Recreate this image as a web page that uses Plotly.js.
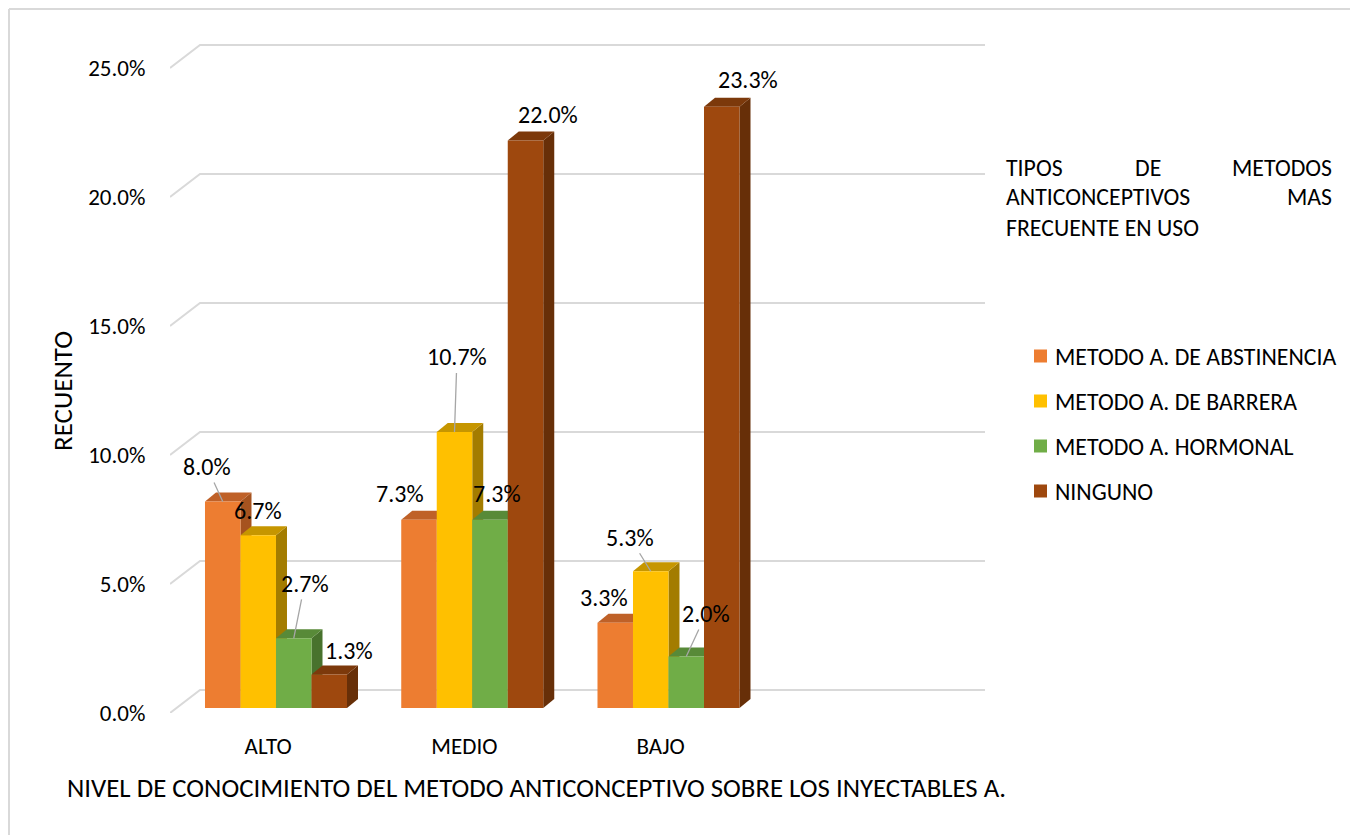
<!DOCTYPE html>
<html>
<head>
<meta charset="utf-8">
<script src="https://cdn.plot.ly/plotly-3.0.1.min.js"></script>
<style>html,body{margin:0;padding:0;background:#fff;}#chart{width:1350px;height:835px;}</style>
</head>
<body>
<div id="chart"></div>
<script>
// ---- data ----
const categories = ['ALTO', 'MEDIO', 'BAJO'];
const seriesNames = ['METODO A. DE ABSTINENCIA', 'METODO A. DE BARRERA', 'METODO A. HORMONAL', 'NINGUNO'];
const abstinencia = [8.0, 7.3, 3.3];
const barrera = [6.7, 10.7, 5.3];
const hormonal = [2.7, 7.3, 2.0];
const ninguno = [1.3, 22.0, 23.3];
const yTickVals = [0, 5, 10, 15, 20, 25];
const yTickText = ['0.0%', '5.0%', '10.0%', '15.0%', '20.0%', '25.0%'];
const legendTitle = 'TIPOS DE METODOS ANTICONCEPTIVOS MAS FRECUENTE EN USO';

// ---- styles ----
const frontColors = ['#ED7D31', '#FFC000', '#70AD47', '#9E480E'];
const topColors = ['#BF6128', '#C69600', '#588A38', '#7C390B'];
const sideColors = ['#A6531F', '#A37C00', '#48722D', '#672F08'];
const FONT = 'Carlito, Calibri, Lato, sans-serif';
const FS_TICK = 23, FS_LABEL = 24, FS_LEG = 23.8, FS_XT = 26.8, FS_YT = 27;
const W = 1350, H = 835;
const M = {l: 170, r: 360, t: 40, b: 122};
const plotW = W - M.l - M.r, plotH = H - M.t - M.b;
const pxPerX = 196.25, pxPerY = 25.8;
const xRange = [-0.5, -0.5 + plotW / pxPerX];
const yRange = [0, plotH / pxPerY];
const backDx = 30 / pxPerX, backDy = 23 / pxPerY;   // back wall offset
const barDx = 11 / pxPerX, barDy = 9 / pxPerY;      // bar depth
const barBase = 5 / pxPerY;                          // bar plane lift
const barW = 0.1809;
const groupShift = 0.0401 - 2 * barW;
// label offsets (px) and whether a leader line is drawn
const labelOffsets = [
  [[-16, -35, true], [-19, -26, false], [-11, -25, false]],
  [[0, -25, false], [2.5, -75, true], [-21, -34, true]],
  [[11, -55, true], [7, -26, false], [20, -43, true]],
  [[20, -24, false], [22.5, -26, false], [26, -27, false]]
];

const series = [abstinencia, barrera, hormonal, ninguno];
const px2paperX = px => (px - M.l) / plotW;
const px2paperY = py => (H - M.b - py) / plotH;

const traces = [];
const shapes = [];
const annotations = [];

// perspective gridlines
const xEnd = -0.5 + (985 - M.l) / pxPerX;
yTickVals.forEach(v => {
  shapes.push({
    type: 'path', xref: 'x', yref: 'y', layer: 'below',
    path: `M ${xRange[0]},${v} L ${xRange[0] + backDx},${v + backDy} L ${xEnd},${v + backDy}`,
    line: {color: '#D9D9D9', width: 2}
  });
});

// 3D faces (side + top) drawn beneath the front faces
categories.forEach((c, i) => {
  series.forEach((vals, j) => {
    const v = vals[i];
    const xl = i + groupShift + j * barW, xr = xl + barW;
    const b = barBase, t = barBase + v;
    shapes.push({
      type: 'path', xref: 'x', yref: 'y', layer: 'below',
      path: `M ${xr},${b} L ${xr + barDx},${b + barDy} L ${xr + barDx},${t + barDy} L ${xr},${t} Z`,
      fillcolor: sideColors[j], line: {width: 0}
    });
    shapes.push({
      type: 'path', xref: 'x', yref: 'y', layer: 'below',
      path: `M ${xl},${t} L ${xr},${t} L ${xr + barDx},${t + barDy} L ${xl + barDx},${t + barDy} Z`,
      fillcolor: topColors[j], line: {width: 0}
    });
  });
});

// front faces
series.forEach((vals, j) => {
  traces.push({
    type: 'bar', name: seriesNames[j], showlegend: false,
    x: categories.map((c, i) => i), y: vals,
    base: barBase, width: barW, offset: groupShift + j * barW,
    marker: {color: frontColors[j], line: {width: 0}},
    hovertemplate: seriesNames[j] + ': %{y:.1f}%<extra></extra>'
  });
  // data labels
  vals.forEach((v, i) => {
    const [ox, oy, leader] = labelOffsets[j][i];
    const xc = i + groupShift + j * barW + barW / 2;
    const a = {
      x: xc, y: barBase + v, xref: 'x', yref: 'y',
      text: v.toFixed(1) + '%', font: {family: FONT, size: FS_LABEL, color: '#000'}
    };
    if (leader) {
      Object.assign(a, {showarrow: true, arrowhead: 0, arrowwidth: 1.3, arrowcolor: '#A6A6A6', ax: ox, ay: oy, standoff: 0});
    } else {
      Object.assign(a, {showarrow: false, xshift: ox, yshift: -oy});
    }
    annotations.push(a);
  });
});

// axis titles
annotations.push({
  xref: 'paper', yref: 'paper', x: px2paperX(536), y: px2paperY(787),
  text: 'NIVEL DE CONOCIMIENTO DEL METODO ANTICONCEPTIVO SOBRE LOS INYECTABLES A.',
  showarrow: false, font: {family: FONT, size: FS_XT, color: '#000'}, xanchor: 'center', yanchor: 'middle'
});
annotations.push({
  xref: 'paper', yref: 'paper', x: px2paperX(63), y: px2paperY(391),
  text: 'RECUENTO', textangle: -90,
  showarrow: false, font: {family: FONT, size: FS_YT, color: '#000'}, xanchor: 'center', yanchor: 'middle'
});

// legend title (justified over three lines)
const tw = legendTitle.split(' ');
const legTitle = [
  [tw[0], 1004, 167, 'left'], [tw[1], 1148, 167, 'center'], [tw[2], 1334, 167, 'right'],
  [tw[3], 1004, 197, 'left'], [tw[4], 1334, 197, 'right'],
  [tw.slice(5).join(' '), 1004, 227, 'left']
];
legTitle.forEach(([t, x, y, anc]) => {
  annotations.push({
    xref: 'paper', yref: 'paper', x: px2paperX(x), y: px2paperY(y), text: t,
    showarrow: false, font: {family: FONT, size: FS_LEG, color: '#000'}, xanchor: anc, yanchor: 'middle'
  });
});

// legend entries
seriesNames.forEach((name, j) => {
  const cy = 356 + j * 45;
  shapes.push({
    type: 'rect', xref: 'paper', yref: 'paper',
    x0: px2paperX(1034), x1: px2paperX(1047), y0: px2paperY(cy - 6.5), y1: px2paperY(cy + 6.5),
    fillcolor: frontColors[j], line: {width: 0}
  });
  annotations.push({
    xref: 'paper', yref: 'paper', x: px2paperX(1053), y: px2paperY(cy), text: name,
    showarrow: false, font: {family: FONT, size: FS_LEG, color: '#000'}, xanchor: 'left', yanchor: 'middle'
  });
});

// chart frame (top and left edges visible)
shapes.push({type: 'line', xref: 'paper', yref: 'paper', x0: px2paperX(9), x1: px2paperX(9), y0: px2paperY(9), y1: px2paperY(H + 5), line: {color: '#D9D9D9', width: 2}});
shapes.push({type: 'line', xref: 'paper', yref: 'paper', x0: px2paperX(9), x1: px2paperX(W + 5), y0: px2paperY(9), y1: px2paperY(9), line: {color: '#D9D9D9', width: 2}});

const layout = {
  width: W, height: H, margin: M,
  paper_bgcolor: '#fff', plot_bgcolor: 'rgba(0,0,0,0)',
  barmode: 'overlay', showlegend: false,
  font: {family: FONT, size: FS_TICK, color: '#000'},
  xaxis: {
    range: xRange, tickmode: 'array', tickvals: categories.map((c, i) => i), ticktext: categories,
    showgrid: false, zeroline: false, showline: false,
    ticks: 'outside', ticklen: 12, tickcolor: 'rgba(0,0,0,0)',
    tickfont: {family: FONT, size: FS_TICK, color: '#000'}, fixedrange: true
  },
  yaxis: {
    range: yRange, tickmode: 'array', tickvals: yTickVals, ticktext: yTickText,
    showgrid: false, zeroline: false, showline: false,
    ticks: 'outside', ticklen: 19, tickcolor: 'rgba(0,0,0,0)',
    tickfont: {family: FONT, size: FS_TICK, color: '#000'}, fixedrange: true
  },
  shapes: shapes, annotations: annotations
};

Plotly.newPlot('chart', traces, layout, {displayModeBar: false, staticPlot: true});
</script>
</body>
</html>
